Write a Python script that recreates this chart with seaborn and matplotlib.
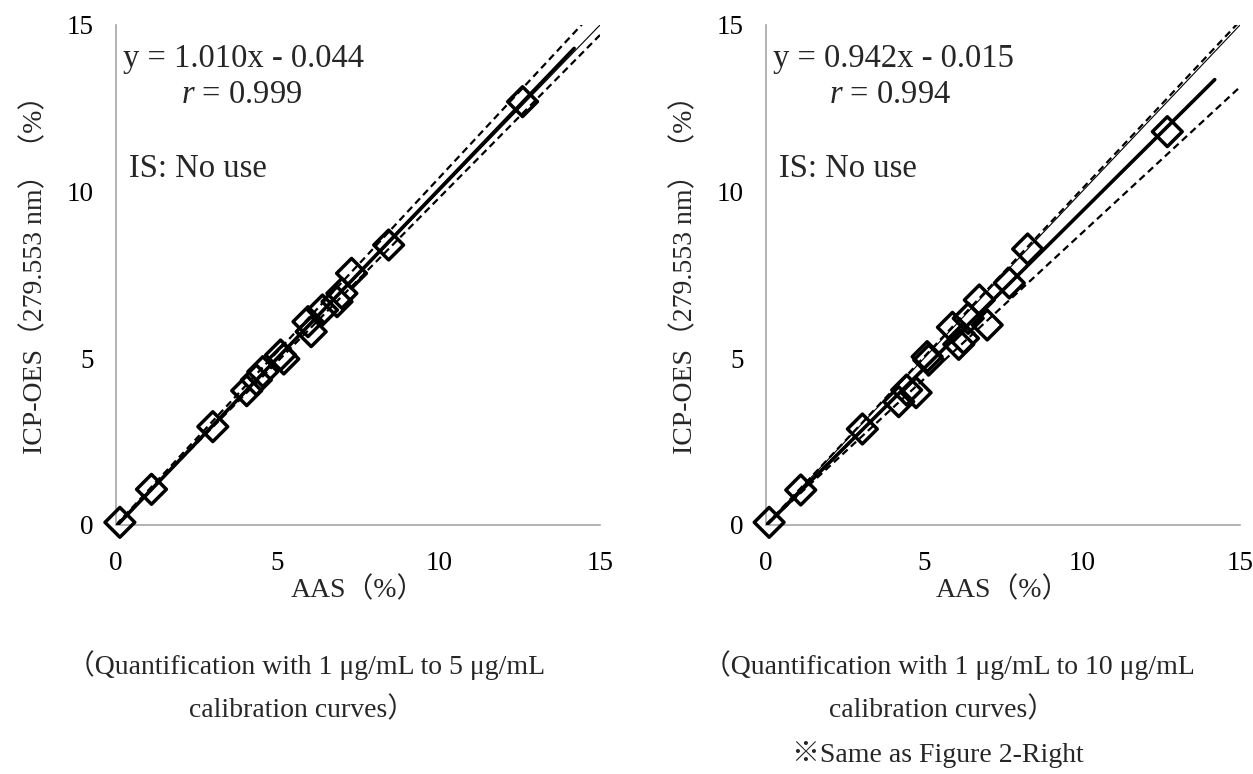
import numpy as np
import pandas as pd
import matplotlib
matplotlib.use("Agg")
import matplotlib.pyplot as plt
import seaborn as sns

# ---------------- data ----------------
left_aas = [0.12, 1.10, 3.00, 4.05, 4.35, 4.55, 5.10, 5.20, 5.95, 6.05, 6.40, 6.85, 7.00, 7.30, 8.45, 12.60]
left_icp = [0.08, 1.07, 2.95, 4.03, 4.35, 4.60, 5.10, 4.98, 6.10, 5.80, 6.45, 6.70, 6.95, 7.55, 8.40, 12.70]

right_aas = [0.10, 1.10, 3.05, 4.20, 4.45, 4.75, 5.10, 5.15, 5.90, 6.10, 6.25, 6.40, 6.75, 7.00, 7.70, 8.28, 12.70]
right_icp = [0.08, 1.05, 2.88, 3.70, 4.05, 3.97, 5.05, 4.95, 5.93, 5.42, 5.60, 6.20, 6.75, 6.00, 7.26, 8.28, 11.80]

left_fit = (1.010, -0.044)     # slope, intercept
right_fit = (0.942, -0.015)
left_band = (1.040, 0.980)     # upper / lower dashed slopes
right_band = (1.008, 0.876)

left_eq = ["y = 1.010x - 0.044", "0.999"]
right_eq = ["y = 0.942x - 0.015", "0.994"]

ticks = [0, 5, 10, 15]
xlabel = "AAS（%）"
ylabel = "ICP-OES（279.553 nm）（%）"
is_text = "IS: No use"
left_caption = ["（Quantification with 1 μg/mL to 5 μg/mL", "calibration curves）"]
right_caption = ["（Quantification with 1 μg/mL to 10 μg/mL", "calibration curves）", "※Same as Figure 2-Right"]

# ---------------- style ----------------
sns.set_theme(style="white")
FAM = ["Liberation Serif", "Noto Sans CJK JP", "DejaVu Sans"]
plt.rcParams["font.family"] = FAM
plt.rcParams["mathtext.fontset"] = "custom"
plt.rcParams["mathtext.it"] = "Liberation Serif:italic"
plt.rcParams["mathtext.rm"] = "Liberation Serif"

W, H = 1253, 774
fig = plt.figure(figsize=(W / 100, H / 100), dpi=100)

def axes_px(x0, x1, ytop, ybot):
    return fig.add_axes([x0 / W, (H - ybot) / H, (x1 - x0) / W, (ybot - ytop) / H])

axL = axes_px(116, 600, 25, 525)
axR = axes_px(766, 1240, 25, 525)

SPINE = "#a6a6a6"

def draw(ax, xs, ys, fit, band, eq):
    slope, icpt = fit
    # 1:1 line
    x11 = np.array([0, 15])
    ax.plot(x11, x11, color="black", lw=0.8, zorder=2)
    # dashed bands
    ax.plot(x11, band[0] * x11, color="black", lw=1.6, ls=(0, (3.2, 2.0)), zorder=2)
    ax.plot(x11, band[1] * x11, color="black", lw=1.6, ls=(0, (3.2, 2.0)), zorder=2)
    # regression line
    xr = np.array([0, 14.2])
    ax.plot(xr, slope * xr + icpt, color="black", lw=2.6, zorder=3)
    df = pd.DataFrame({"x": xs, "y": ys})
    sns.scatterplot(data=df, x="x", y="y", ax=ax, marker="D", s=230,
                    facecolor="none", edgecolor="black", linewidth=2.5,
                    zorder=4, clip_on=False)
    ax.set_xlim(0, 15)
    ax.set_ylim(0, 15)
    ax.set_xticks(ticks)
    ax.set_yticks(ticks)
    for s in ["top", "right"]:
        ax.spines[s].set_visible(False)
    for s in ["left", "bottom"]:
        ax.spines[s].set_color(SPINE)
        ax.spines[s].set_linewidth(1.2)
    ax.tick_params(axis="both", direction="in", length=8, width=1.2, color=SPINE,
                   labelsize=19.5, labelcolor="black")
    ax.tick_params(axis="x", pad=19)
    ax.tick_params(axis="y", pad=16)
    ax.set_xlabel(xlabel, fontsize=20, family=FAM, labelpad=0)
    ax.set_ylabel(ylabel, fontsize=20, family=FAM, labelpad=13)
    ax.yaxis.label.set_y(0.515)
    ax.text(0.23, 14.0, eq[0], fontsize=23.5, va="center", ha="left")
    ax.text(2.0, 12.9, r"$\it{r}$" + " = " + eq[1], fontsize=23.5, va="center", ha="left")
    ax.text(0.4, 10.7, is_text, fontsize=23.5, va="center", ha="left")

draw(axL, left_aas, left_icp, left_fit, left_band, left_eq)
draw(axR, right_aas, right_icp, right_fit, right_band, right_eq)

cap_fs = 20
fig.text(306 / W, 1 - 665 / H, left_caption[0], ha="center", va="center", fontsize=cap_fs, family=FAM)
fig.text(302 / W, 1 - 710 / H, left_caption[1], ha="center", va="center", fontsize=cap_fs, family=FAM)
fig.text(949 / W, 1 - 665 / H, right_caption[0], ha="center", va="center", fontsize=cap_fs, family=FAM)
fig.text(942 / W, 1 - 710 / H, right_caption[1], ha="center", va="center", fontsize=cap_fs, family=FAM)
fig.text(938 / W, 1 - 755 / H, right_caption[2], ha="center", va="center", fontsize=cap_fs, family=FAM)

fig.savefig("out.png", dpi=100, facecolor="white")
